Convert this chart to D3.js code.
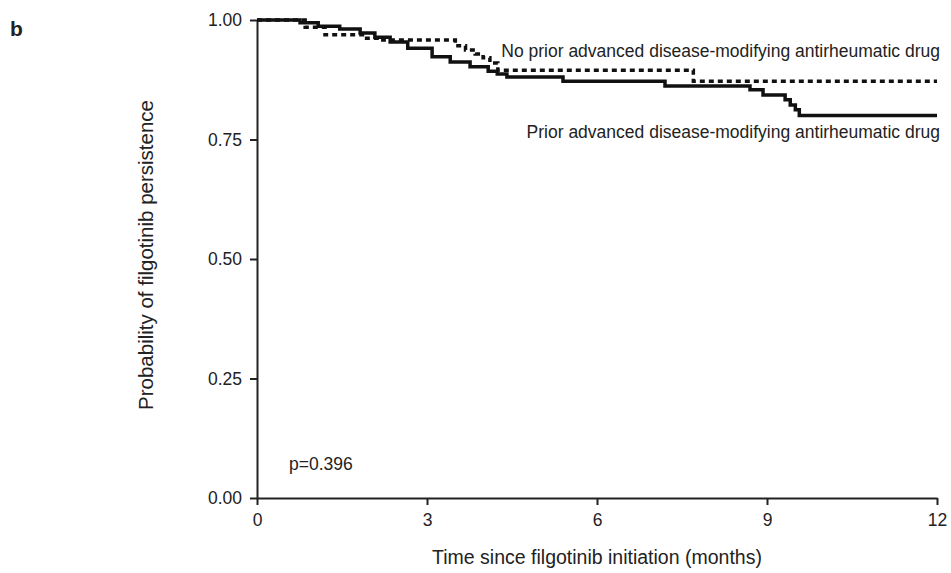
<!DOCTYPE html>
<html>
<head>
<meta charset="utf-8">
<script src="https://cdn.jsdelivr.net/npm/d3@7"></script>
<style>
  body { margin: 0; background: #fff; }
  svg { font-family: "Liberation Sans", Arial, sans-serif; }
  .axis path, .axis line { stroke: #222; stroke-width: 2; }
  .axis text { font-size: 17.5px; fill: #222; }
</style>
</head>
<body>
<div id="chart"></div>
<script>
// Kaplan-Meier steps: [time (months), survival after step]
const priorSteps = [
  [0, 1.0], [0.76, 0.994], [1.08, 0.987], [1.46, 0.981], [1.82, 0.973], [2.08, 0.964],
  [2.35, 0.954], [2.66, 0.941], [3.09, 0.923], [3.41, 0.912], [3.76, 0.902], [4.08, 0.893],
  [4.24, 0.887], [4.41, 0.881], [5.40, 0.872], [7.20, 0.862], [8.70, 0.854], [8.93, 0.843],
  [9.32, 0.833], [9.41, 0.822], [9.50, 0.812], [9.57, 0.800], [12, 0.800]
]
const noPriorSteps = [
  [0, 1.0], [0.85, 0.985], [1.20, 0.969], [1.90, 0.962], [2.22, 0.958], [3.50, 0.946],
  [3.68, 0.937], [3.85, 0.929], [3.99, 0.921], [4.11, 0.910], [4.25, 0.895], [7.70, 0.872],
  [12, 0.872]
]
const xTicks = [0, 3, 6, 9, 12]
const yTicks = [0, 0.25, 0.5, 0.75, 1]

const W = 951, H = 573
const margin = { top: 20, right: 14, bottom: 75, left: 257 }
const innerW = W - margin.left - margin.right
const innerH = H - margin.top - margin.bottom

const svg = d3.select('#chart').append('svg').attr('width', W).attr('height', H)
const g = svg.append('g').attr('transform', `translate(${margin.left},${margin.top})`)

const x = d3.scaleLinear().domain([0, 12]).range([0, innerW])
const y = d3.scaleLinear().domain([0, 1]).range([innerH, 0])

g.append('g').attr('class', 'axis').attr('transform', `translate(0,${innerH})`)
  .call(d3.axisBottom(x).tickValues(xTicks).tickSize(7).tickSizeOuter(0).tickPadding(9))
g.append('g').attr('class', 'axis')
  .call(d3.axisLeft(y).tickValues(yTicks).tickFormat(d3.format('.2f')).tickSize(7).tickSizeOuter(0).tickPadding(8))

const line = d3.line().x((d) => x(d[0])).y((d) => y(d[1])).curve(d3.curveStepAfter)

g.append('path').datum(noPriorSteps).attr('d', line)
  .attr('fill', 'none').attr('stroke', '#111').attr('stroke-width', 3.5)
  .attr('stroke-dasharray', '5,4')
g.append('path').datum(priorSteps).attr('d', line)
  .attr('fill', 'none').attr('stroke', '#111').attr('stroke-width', 3.5)

g.append('text').attr('x', innerW + 3).attr('y', 37).attr('text-anchor', 'end')
  .style('font-size', '17.5px').attr('fill', '#222')
  .text('No prior advanced disease-modifying antirheumatic drug')
g.append('text').attr('x', innerW + 3).attr('y', 118).attr('text-anchor', 'end')
  .style('font-size', '17.5px').attr('fill', '#222')
  .text('Prior advanced disease-modifying antirheumatic drug')
g.append('text').attr('x', 32).attr('y', 450)
  .style('font-size', '17.5px').attr('fill', '#222').text('p=0.396')

svg.append('text').attr('x', margin.left + innerW / 2).attr('y', 564).attr('text-anchor', 'middle')
  .style('font-size', '19.5px').attr('fill', '#222').text('Time since filgotinib initiation (months)')
svg.append('text').attr('transform', 'translate(153,255) rotate(-90)').attr('text-anchor', 'middle')
  .style('font-size', '20.5px').attr('fill', '#222').text('Probability of filgotinib persistence')
svg.append('text').attr('x', 10).attr('y', 36)
  .style('font-size', '21px').style('font-weight', 'bold').attr('fill', '#222').text('b')
</script>
</body>
</html>
